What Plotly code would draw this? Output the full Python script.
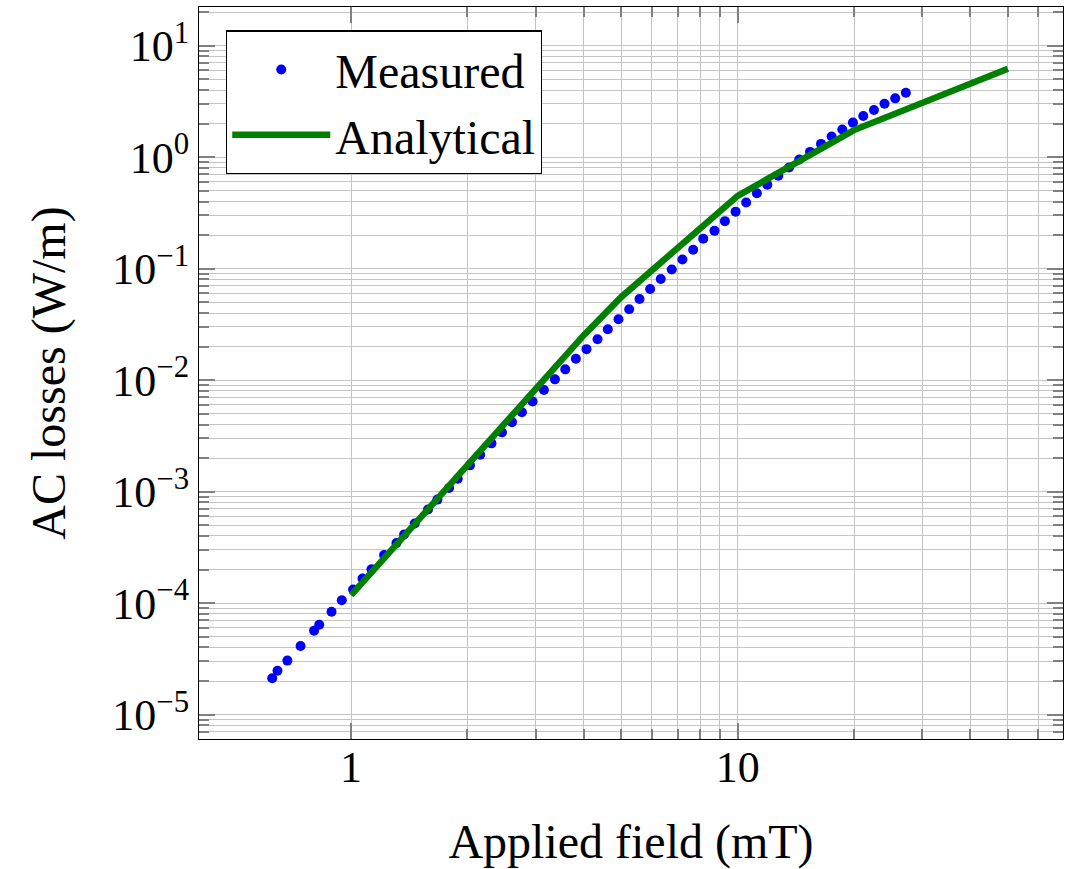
import plotly.graph_objects as go

# Measured AC losses versus applied field
field_measured = [0.625, 0.645, 0.684, 0.740, 0.802, 0.827, 0.890, 0.946, 1.012, 1.070,
                  1.129, 1.217, 1.310, 1.371, 1.461, 1.581, 1.672, 1.792, 1.887, 2.030,
                  2.157, 2.307, 2.456, 2.607, 2.766, 2.948, 3.153, 3.367, 3.581, 3.814,
                  4.064, 4.340, 4.614, 4.917, 5.241, 5.572, 5.937, 6.324, 6.753, 7.195,
                  7.671, 8.145, 8.708, 9.267, 9.877, 10.52, 11.21, 11.93, 12.74, 13.58,
                  14.43, 15.39, 16.43, 17.50, 18.65, 19.87, 21.13, 22.52, 23.98, 25.56,
                  27.23]
loss_measured = [2.12e-5, 2.47e-5, 3.05e-5, 4.12e-5, 5.66e-5, 6.40e-5, 8.36e-5, 1.062e-4, 1.324e-4, 1.66e-4,
                 2.01e-4, 2.70e-4, 3.46e-4, 4.13e-4, 5.18e-4, 6.90e-4, 8.48e-4, 1.079e-3, 1.306e-3, 1.72e-3,
                 2.14e-3, 2.71e-3, 3.40e-3, 4.20e-3, 5.15e-3, 6.43e-3, 8.16e-3, 1.016e-2, 1.249e-2, 1.556e-2,
                 1.897e-2, 2.33e-2, 2.86e-2, 3.52e-2, 4.32e-2, 5.35e-2, 6.57e-2, 8.07e-2, 9.84e-2, 0.1208,
                 0.1475, 0.1858, 0.2182, 0.2668, 0.3245, 0.392, 0.4738, 0.5656, 0.6806, 0.809,
                 0.954, 1.115, 1.315, 1.531, 1.768, 2.042, 2.339, 2.647, 3.019, 3.368,
                 3.786]

# Analytical model
field_model = [1, 2, 3, 4, 5, 10, 20, 50]
loss_model = [1.18e-4, 1.77e-3, 8.6e-3, 2.53e-2, 5.57e-2, 0.45, 1.75, 6.2]

# Axis ticks
x_major = [1, 10]
x_major_text = ["1", "10"]
x_minor = [k for k in range(2, 10)] + [10 * k for k in range(2, 7)]
y_major = [1e-5, 1e-4, 1e-3, 1e-2, 1e-1, 1e0, 1e1]
y_major_text = ["10<sup>−5</sup>", "10<sup>−4</sup>", "10<sup>−3</sup>", "10<sup>−2</sup>",
                "10<sup>−1</sup>", "10<sup>0</sup>", "10<sup>1</sup>"]
y_minor = [k * 10.0 ** d for d in range(-6, 2) for k in range(2, 10)]

FONT = "Liberation Serif"
GRID = "#c4c4c4"
TICK = "#808080"

fig = go.Figure()
fig.add_trace(go.Scatter(
    x=field_measured, y=loss_measured, mode="markers", name="Measured",
    marker=dict(color="#0000ff", size=10, line=dict(width=0)),
))
fig.add_trace(go.Scatter(
    x=field_model, y=loss_model, mode="lines", name="Analytical",
    line=dict(color="#008000", width=6.5),
))

axis_common = dict(
    type="log",
    showline=True, linecolor="black", linewidth=1.3, mirror="allticks",
    ticks="inside", ticklen=16, tickcolor=TICK, tickwidth=1.6,
    showgrid=True, gridcolor=GRID, gridwidth=1,
    zeroline=False,
    tickfont=dict(family=FONT, size=44, color="black"),
)

fig.update_xaxes(
    **axis_common,
    range=[-0.3935, 1.8416],
    tickmode="array", tickvals=x_major, ticktext=x_major_text,
    minor=dict(tickmode="array", tickvals=x_minor, ticks="inside", ticklen=10,
               tickcolor=TICK, tickwidth=1.6, showgrid=True, gridcolor=GRID, gridwidth=1),
    ticklabelstandoff=-11,
    title=dict(text="Applied field (mT)", font=dict(family=FONT, size=48, color="black"), standoff=41),
)
fig.update_yaxes(
    **axis_common,
    range=[-5.219, 1.347],
    tickmode="array", tickvals=y_major, ticktext=y_major_text,
    minor=dict(tickmode="array", tickvals=y_minor, ticks="inside", ticklen=10,
               tickcolor=TICK, tickwidth=1.6, showgrid=True, gridcolor=GRID, gridwidth=1),
    title=dict(text="AC losses (W/m)", font=dict(family=FONT, size=48, color="black"), standoff=31),
)

fig.update_layout(
    width=1066, height=869,
    margin=dict(l=199, r=2, t=7, b=127),
    paper_bgcolor="white", plot_bgcolor="white",
    showlegend=True,
    legend=dict(
        x=0.0312, y=0.968, xanchor="left", yanchor="top",
        bgcolor="white", bordercolor="black", borderwidth=1.3,
        font=dict(family=FONT, size=48, color="black"),
        itemwidth=98, tracegroupgap=0,
    ),
)

fig.write_html("out.html")
